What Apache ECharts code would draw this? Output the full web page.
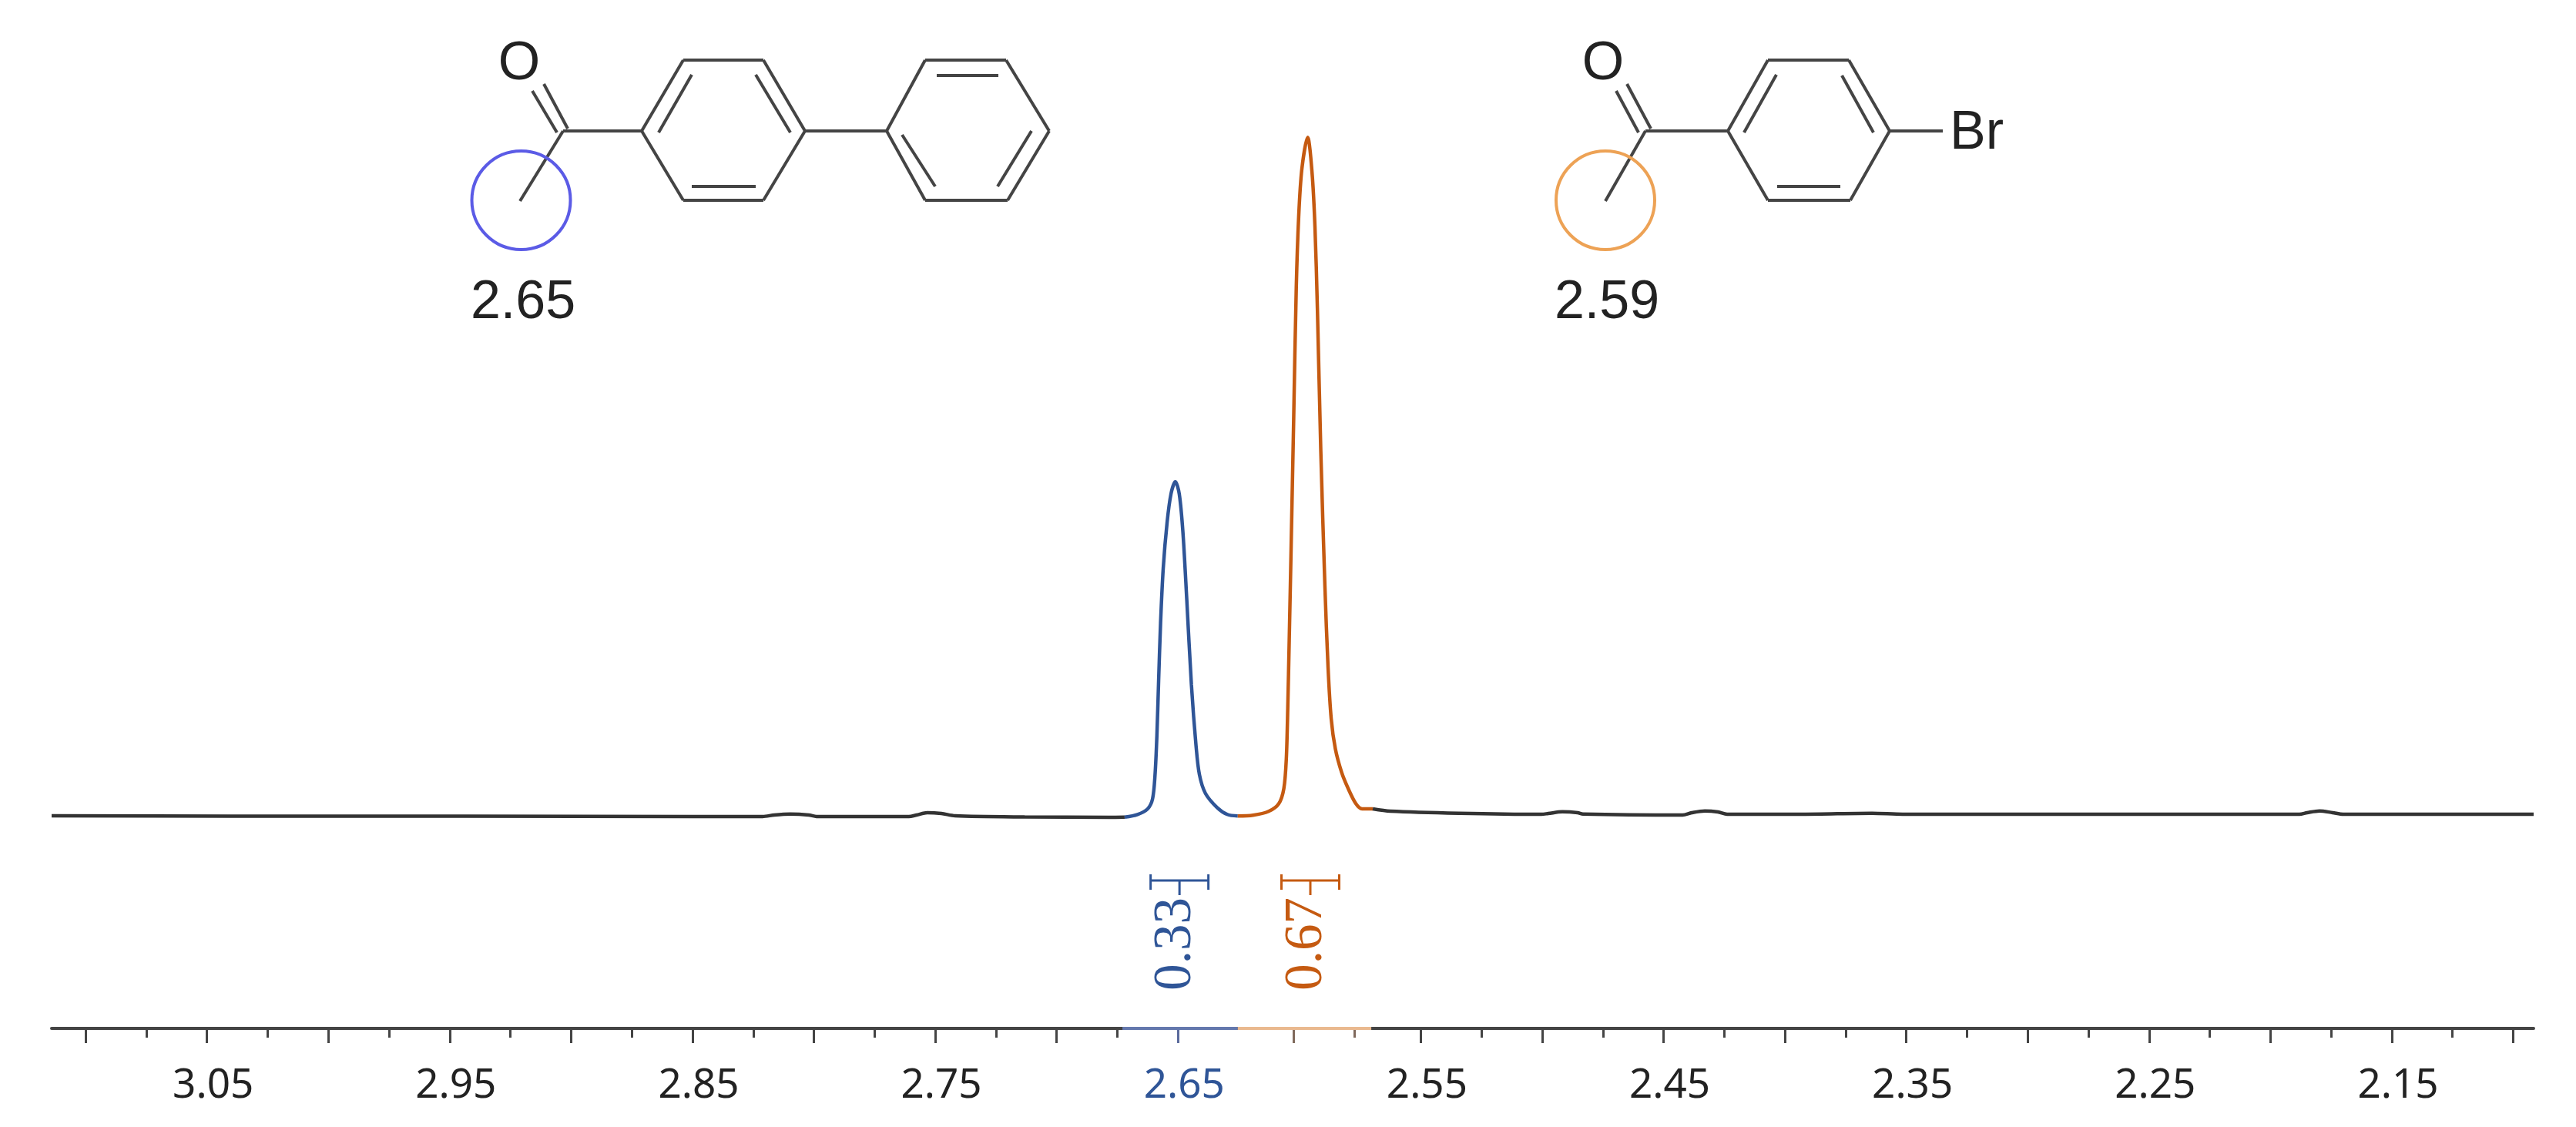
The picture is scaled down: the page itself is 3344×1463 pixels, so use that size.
<!DOCTYPE html>
<html>
<head>
<meta charset="utf-8">
<title>NMR spectrum</title>
<style>
	html,body {margin:0;padding:0;background:#fff;}
	#chart {width:3344px;height:1463px;}
</style>
</head>
<body>
<div id="chart"></div>
<script src="https://cdn.jsdelivr.net/npm/echarts@6/dist/echarts.min.js"></script>
<script>
// spectrum: [ppm, intensity], tallest peak = 100
var baselineLeft = [[3.114,0.11],[3.0401,0.06],[2.9449,0.06],[2.8497,0],[2.8211,0],[2.8163,0.23],[2.8097,0.37],[2.8021,0.23],[2.7989,0],
	[2.7609,0],[2.7577,0.23],[2.7533,0.57],[2.7475,0.45],[2.7418,0.11],[2.7132,-0.06],[2.6783,-0.11],[2.672,-0.08]];
var peakBlue = [[2.672,-0.08],[2.6667,0.31],[2.6625,1.14],[2.6605,2.6],[2.6595,6.0],[2.6587,12.0],[2.658,20.0],[2.6572,28.5],[2.6561,36.6],
	[2.6545,43.4],[2.6529,47.6],[2.6511,49.4],[2.6495,47.6],[2.648,42.0],[2.6464,32.0],[2.6445,19.5],[2.6426,10.5],[2.6412,6.2],
	[2.6387,3.41],[2.6339,1.33],[2.6297,0.31],[2.6254,0.08]];
var peakOrange = [[2.6254,0.08],[2.6191,0.19],[2.6127,0.76],[2.6085,1.9],[2.6064,4.17],[2.6054,8.5],[2.6048,16.0],[2.6042,26.0],[2.6034,40.0],
	[2.6024,58.0],[2.6013,78.0],[2.6003,88.5],[2.599,95.5],[2.5966,100.2],[2.5948,95.0],[2.5936,87.0],[2.5926,75.0],[2.5912,54.0],
	[2.5895,34.0],[2.5882,22.0],[2.5869,14.4],[2.5852,10.0],[2.5826,6.5],[2.58,4.2],[2.5768,1.93],[2.5742,1.14],[2.5698,1.14]];
var baselineRight = [[2.5698,1.14],[2.5625,0.8],[2.5343,0.49],[2.5003,0.34],[2.4975,0.45],[2.4917,0.7],[2.4854,0.57],[2.4832,0.37],[2.4422,0.23],
	[2.4384,0.57],[2.433,0.83],[2.4276,0.68],[2.4238,0.34],[2.3927,0.34],[2.3642,0.49],[2.3515,0.34],[2.2785,0.34],[2.1881,0.34],
	[2.1849,0.57],[2.1798,0.83],[2.1744,0.57],[2.17,0.34],[2.0916,0.34]];

var ppmMin = 2.0916, ppmMax = 3.114;
var yMin = -31.25, yMax = 110;

var labelValues = [3.05,2.95,2.85,2.75,2.65,2.55,2.45,2.35,2.25,2.15];
var majorTicks = [3.10,3.05,3.00,2.95,2.90,2.85,2.80,2.75,2.70,2.55,2.50,2.45,2.40,2.35,2.30,2.25,2.20,2.15,2.10];
var minorTicks = [3.075,3.025,2.975,2.925,2.875,2.825,2.775,2.725,2.675,2.525,2.475,2.425,2.375,2.325,2.275,2.225,2.175,2.125];
var blueMajorTicks = [2.65];
var orangeMajorTicks = [2.6025];
var orangeMinorTicks = [2.5774];

var integralCenters = [2.6494,2.5955];
var integralLabels = ['0.33','0.67'];
var integralLevel = [-9.43,-9.43];
var spanBlue = [2.6729,2.6254];
var spanOrange = [2.6254,2.5704];

var cBlue = '#2f5597', cOrange = '#c55a11', cBlack = '#333333';
var cText = '#222222', cBond = '#444444';

// tick only axes laid over the main one
function tickAxis(values,len,color){
	return {
		type:'value',position:'bottom',inverse:true,min:ppmMin,max:ppmMax,
		axisLine:{show:false,onZero:false},splitLine:{show:false},axisLabel:{show:false},
		axisTick:{show:true,length:len,customValues:values,lineStyle:{color:color,width:3}}
	};
}

function lineSeries(data,color,width){
	return {
		type:'line',data:data,showSymbol:false,symbol:'none',clip:false,silent:true,
		smooth:0.3,
		lineStyle:{color:color,width:width},
		itemStyle:{color:color}
	};
}

function spanLine(span,color){
	return {
		type:'line',data:[[span[0],yMin],[span[1],yMin]],showSymbol:false,symbol:'none',clip:false,silent:true,
		lineStyle:{color:color,width:4}
	};
}

function renderIntegral(params,api){
	var i = params.dataIndex;
	var p = api.coord([api.value(0),api.value(1)]);
	var color = i==0 ? cBlue : cOrange;
	var st = {stroke:color,lineWidth:3,fill:null};
	var seg = function(x1,y1,x2,y2){
		return {type:'line',shape:{x1:p[0]+x1,y1:p[1]+y1,x2:p[0]+x2,y2:p[1]+y2},style:st};
	};
	return {type:'group',children:[
		seg(-37.5,0,37.5,0),
		seg(-37.5,-8,-37.5,12),
		seg(37.5,-8,37.5,12),
		seg(0,0,0,19),
		{type:'text',x:p[0]-4.5,y:p[1]+22,rotation:Math.PI/2,style:{
			text:integralLabels[i],fill:color,font:'69px "Liberation Serif"',align:'right',verticalAlign:'middle'
		}}
	]};
}

// molecule sketches, page pixels
var bondsBiphenyl = [
	[691,118,723,172],[706,109,737,167],[731,170,675,261],[731,170,833,170],
	[833,170,887,78],[887,78,991,78],[991,78,1045,170],[1045,170,991,260],[991,260,887,260],[887,260,833,170],
	[855,172,898,97],[981,97,1026,172],[898,242,981,242],
	[1045,170,1151,170],
	[1151,170,1201,78],[1201,78,1306,78],[1306,78,1362,170],[1362,170,1308,260],[1308,260,1201,260],[1201,260,1151,170],
	[1216,98,1296,98],[1171,175,1214,242],[1295,242,1339,170]
];
var bondsBromo = [
	[2098,118,2127,172],[2112,109,2143,167],[2136,170,2084,261],[2136,170,2243,170],
	[2243,170,2295,78],[2295,78,2400,78],[2400,78,2453,170],[2453,170,2402,260],[2402,260,2295,260],[2295,260,2243,170],
	[2264,172,2306,97],[2391,98,2432,172],[2307,242,2389,242],
	[2453,170,2522,170]
];

var graphics = [];
bondsBiphenyl.concat(bondsBromo).forEach(function(b){
	graphics.push({type:'line',shape:{x1:b[0],y1:b[1],x2:b[2],y2:b[3]},style:{stroke:cBond,lineWidth:4}});
});
function addText(str,x,y,align){
	graphics.push({type:'text',x:x,y:y,style:{text:str,fill:cText,font:'70px "Liberation Sans"',align:align||'center',verticalAlign:'middle'}});
}
addText('O',674,84);
addText('O',2081,84);
addText('Br',2531,174,'left');
addText('2.65',679,394);
addText('2.59',2086,394);
graphics.push({type:'circle',shape:{cx:676.5,cy:260,r:64},style:{stroke:'#5b5be6',lineWidth:4,fill:null}});
graphics.push({type:'circle',shape:{cx:2084,cy:260,r:64},style:{stroke:'#eda255',lineWidth:4,fill:null}});

var chart = echarts.init(document.getElementById('chart'));
chart.setOption({
	animation:false,
	backgroundColor:'#fff',
	grid:{left:67,right:55,top:92,bottom:128},
	xAxis:[
		{
			type:'value',position:'bottom',inverse:true,min:ppmMin,max:ppmMax,
			splitLine:{show:false},
			axisLine:{show:true,onZero:false,lineStyle:{color:'#444',width:4}},
			axisTick:{show:true,length:19,customValues:majorTicks,lineStyle:{color:'#444',width:3}},
			axisLabel:{
				customValues:labelValues,margin:48,padding:[0,0,0,16],
				fontFamily:'Noto Sans',fontSize:53,
				color:function(v){return Math.abs(v-2.65)<0.001 ? cBlue : '#222';},
				formatter:function(v){return Number(v).toFixed(2);}
			}
		},
		tickAxis(minorTicks,12,'#444'),
		tickAxis(blueMajorTicks,19,'#5a6a9c'),
		tickAxis(orangeMajorTicks,19,'#806a5c'),
		tickAxis(orangeMinorTicks,12,'#806a5c')
	],
	yAxis:{type:'value',min:yMin,max:yMax,show:false},
	series:[
		lineSeries(baselineLeft,cBlack,4.5),
		lineSeries(peakBlue,cBlue,4.5),
		lineSeries(peakOrange,cOrange,4.5),
		lineSeries(baselineRight,cBlack,4.5),
		spanLine(spanBlue,'#6478ad'),
		spanLine(spanOrange,'#eab98f'),
		{
			type:'custom',clip:false,silent:true,
			data:integralCenters.map(function(c,i){return [c,integralLevel[i]];}),
			renderItem:renderIntegral
		}
	],
	graphic:graphics
});
</script>
</body>
</html>
